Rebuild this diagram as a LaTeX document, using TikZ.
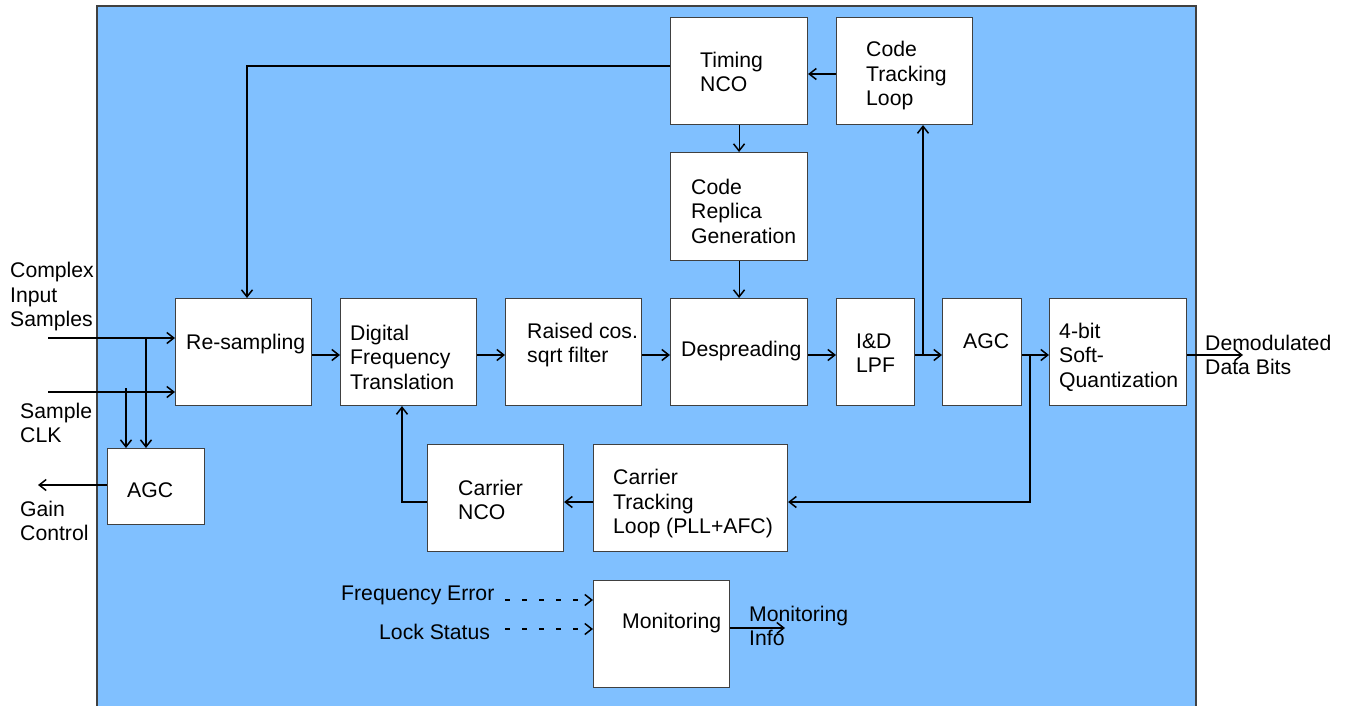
\documentclass[tikz,border=0pt]{standalone}
\usepackage{fontspec}
\setmainfont{Liberation Sans}
\usetikzlibrary{arrows.meta}
\definecolor{panel}{RGB}{128,192,255}
\definecolor{edge}{RGB}{64,64,64}
\tikzset{
  blk/.style={draw=edge, fill=white, line width=1.1pt, anchor=north west, inner sep=0pt},
  txt/.style={anchor=west, align=left, inner sep=0pt, font=\fontsize{21.2}{24.5}\selectfont},
  wire/.style={line width=1.1pt, draw=black},
  arr/.style={wire, -{Straight Barb[length=7pt,width=11pt,line width=1.5pt]}},
  darr/.style={arr, dash pattern=on 5pt off 12pt}
}
\begin{document}
\begin{tikzpicture}[x=1pt,y=-1pt]
\useasboundingbox (0,0) rectangle (1346,706);
% panel
\fill[panel] (97,6) rectangle (1196,706);
\draw[edge, line width=1.3pt] (97,706) -- (97,6) -- (1196,6) -- (1196,706);

% blocks
\node[blk, minimum width=137pt, minimum height=107pt] (tnco)  at (670,17)  {};
\node[blk, minimum width=136pt, minimum height=107pt] (ctl)   at (836,17)  {};
\node[blk, minimum width=137pt, minimum height=108pt] (crg)   at (670,152) {};
\node[blk, minimum width=136pt, minimum height=107pt] (rs)    at (175,298) {};
\node[blk, minimum width=136pt, minimum height=107pt] (dft)   at (340,298) {};
\node[blk, minimum width=136pt, minimum height=107pt] (rcf)   at (505,298) {};
\node[blk, minimum width=137pt, minimum height=107pt] (desp)  at (670,298) {};
\node[blk, minimum width=78pt,  minimum height=107pt] (idl)   at (836,298) {};
\node[blk, minimum width=79pt,  minimum height=107pt] (agcb)  at (942,298) {};
\node[blk, minimum width=137pt, minimum height=107pt] (quant) at (1049,298) {};
\node[blk, minimum width=97pt,  minimum height=76pt]  (agca)  at (107,448) {};
\node[blk, minimum width=136pt, minimum height=107pt] (cnco)  at (427,444) {};
\node[blk, minimum width=194pt, minimum height=107pt] (ctrk)  at (593,444) {};
\node[blk, minimum width=136pt, minimum height=107pt] (mon)   at (593,580) {};

% block texts
\node[txt] (tnco-t)  at (700,72)  {Timing\\NCO};
\node[txt] (ctl-t)   at (866,76)  {Code\\Tracking\\Loop};
\node[txt] (crg-t)   at (691,211) {Code\\Replica\\Generation};
\node[txt] (rs-t)    at (186,344) {Re-sampling};
\node[txt] (dft-t)   at (350,357) {Digital\\Frequency\\Translation};
\node[txt] (rcf-t)   at (527,345) {Raised cos.\\sqrt filter};
\node[txt] (desp-t)  at (681,351) {Despreading};
\node[txt] (idl-t)   at (856,353) {I\&D\\LPF};
\node[txt] (agcb-t)  at (963,341) {AGC};
\node[txt] (quant-t) at (1059,357) {4-bit\\Soft-\\Quantization};
\node[txt] (agca-t)  at (127,490) {AGC};
\node[txt] (cnco-t)  at (458,500) {Carrier\\NCO};
\node[txt] (ctrk-t)  at (613,504) {Carrier\\Tracking\\Loop (PLL+AFC)};
\node[txt] (mon-t)   at (622,623) {Monitoring};

% external labels
\node[txt] (cin-t)   at (10,297)   {Complex\\Input\\Samples};
\node[txt] (sclk-t)  at (20,423)   {Sample\\CLK};
\node[txt] (gain-t)  at (20,521)   {Gain\\Control};
\node[txt] (dem-t)   at (1205,355) {Demodulated\\Data Bits};
\node[txt] (ferr-t)  at (341,595)  {Frequency Error};
\node[txt] (lock-t)  at (379,632)  {Lock Status};
\node[txt] (minf-t)  at (749,626)  {Monitoring\\Info};

% helper coordinates
\coordinate (row)   at (0,355);
\coordinate (tbend) at (247,66);
\coordinate (ctly)  at (0,74);
\coordinate (cin)   at (48,338);
\coordinate (sclk)  at (48,392);
\coordinate (ja)    at (146,338);
\coordinate (jb)    at (126,388);
\coordinate (gain)  at (38,485);
\coordinate (jc)    at (923,355);
\coordinate (jd)    at (1030,355);
\coordinate (fb)    at (1030,502);
\coordinate (nb)    at (402,502);
\coordinate (dem)   at (1243,355);
\coordinate (ferr)  at (505,600);
\coordinate (lock)  at (505,629);
\coordinate (minf)  at (785,628);

% timing loop
\draw[arr] (tnco.west |- tbend) -- (tbend) -- (rs.north -| tbend);
\draw[arr] (ctl.west |- ctly) -- (tnco.east |- ctly);
\draw[arr] (tnco.south) -- (crg.north);
\draw[arr] (crg.south) -- (desp.north);

% inputs
\draw[arr] (cin) -- (rs.west |- cin);
\draw[arr] (sclk) -- (rs.west |- sclk);
\draw[arr] (ja) -- (agca.north -| ja);
\draw[arr] (jb) -- (agca.north -| jb);
\draw[arr] (agca.west |- gain) -- (gain);

% main chain
\draw[arr] (rs.east |- row) -- (dft.west |- row);
\draw[arr] (dft.east |- row) -- (rcf.west |- row);
\draw[arr] (rcf.east |- row) -- (desp.west |- row);
\draw[arr] (desp.east |- row) -- (idl.west |- row);
\draw[arr] (idl.east |- row) -- (agcb.west |- row);
\draw[arr] (agcb.east |- row) -- (quant.west |- row);
\draw[arr] (quant.east |- row) -- (dem);

% tracking feedback
\draw[arr] (jc) -- (ctl.south -| jc);
\draw[arr] (jd) -- (fb) -- (ctrk.east |- fb);
\draw[arr] (ctrk.west |- fb) -- (cnco.east |- fb);
\draw[arr] (cnco.west |- nb) -- (nb) -- (dft.south -| nb);

% monitoring
\draw[darr] (ferr) -- (mon.west |- ferr);
\draw[darr] (lock) -- (mon.west |- lock);
\draw[arr] (mon.east |- minf) -- (minf);
\end{tikzpicture}
\end{document}
